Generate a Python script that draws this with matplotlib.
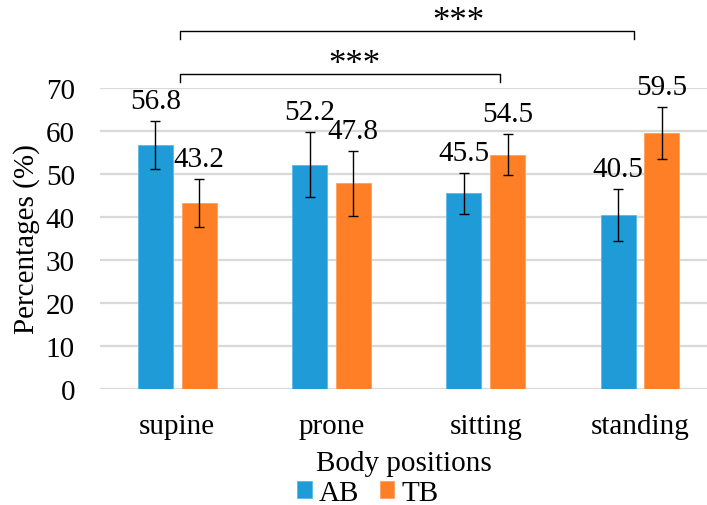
import matplotlib
matplotlib.use("Agg")
import matplotlib.pyplot as plt
import numpy as np

categories = ["supine", "prone", "sitting", "standing"]
ab_values = [56.8, 52.2, 45.5, 40.5]
tb_values = [43.2, 47.8, 54.5, 59.5]
ab_err = [5.6, 7.6, 4.7, 6.0]
tb_err = [5.6, 7.6, 4.7, 6.0]
series_names = ["AB", "TB"]
y_ticks = [0, 10, 20, 30, 40, 50, 60, 70]

plt.rcParams['font.family'] = ['Liberation Serif', 'DejaVu Serif']
FS = 21

fig = plt.figure(figsize=(7.07, 5.06), dpi=100)
ax = fig.add_axes([100/707, 1-390/506, 607/707, (390-89)/506])

blue = "#1f9bd8"
orange = "#ff7f27"
x = np.arange(len(categories))
w = 0.227
off = 0.142

ax.set_axisbelow(True)
ax.grid(axis='y', color='#d9d9d9', linewidth=1.6)
b1 = ax.bar(x - off, ab_values, w, color=blue, edgecolor='#5bb8e6', linewidth=0.6, label=series_names[0], zorder=2)
b2 = ax.bar(x + off, tb_values, w, color=orange, edgecolor='#ffa060', linewidth=0.6, label=series_names[1], zorder=2)
ax.errorbar(x - off, ab_values, yerr=ab_err, fmt='none', ecolor='black', elinewidth=1, capsize=3.6, capthick=1, zorder=3)
ax.errorbar(x + off, tb_values, yerr=tb_err, fmt='none', ecolor='black', elinewidth=1, capsize=3.6, capthick=1, zorder=3)

for xi, v, e in zip(x - off, ab_values, ab_err):
    ax.annotate(f"{v}", (xi, v + e), xytext=(0, 5), textcoords='offset points', ha='center', va='bottom', fontsize=FS)
for xi, v, e in zip(x + off, tb_values, tb_err):
    ax.annotate(f"{v}", (xi, v + e), xytext=(0, 5), textcoords='offset points', ha='center', va='bottom', fontsize=FS)

ax.set_ylim(0, 70)
ax.set_xlim(-0.5, 3.434)
ax.set_yticks(y_ticks)
ax.set_xticks(x)
ax.set_xticklabels(categories, fontsize=FS)
ax.tick_params(axis='y', labelsize=FS, length=0, pad=18)
ax.tick_params(axis='x', length=0, pad=17)
for s in ax.spines.values():
    s.set_visible(False)
ax.set_ylabel("Percentages (%)", fontsize=FS, labelpad=4)
ax.set_xlabel("Body positions", fontsize=FS, labelpad=8)

# significance brackets
def bracket(x0, x1, y, drop, text, tx):
    ax.plot([x0, x0, x1, x1], [y - drop, y, y, y - drop], color='black', linewidth=1, clip_on=False)
    ax.text(tx, y - 1.6, text, ha='center', va='bottom', fontsize=25)

bracket(0.02, 2.96, 83.3, 1.8, "***", 1.82)
bracket(0.02, 2.09, 73.2, 1.8, "***", 1.15)

fig.legend(handles=[b1, b2], loc='center', bbox_to_anchor=(368/707, 1-494/506), ncol=2, frameon=False,
           fontsize=FS, handlelength=0.5, handleheight=0.5, handletextpad=0.25, columnspacing=0.7)

fig.savefig("out.png", dpi=100)
